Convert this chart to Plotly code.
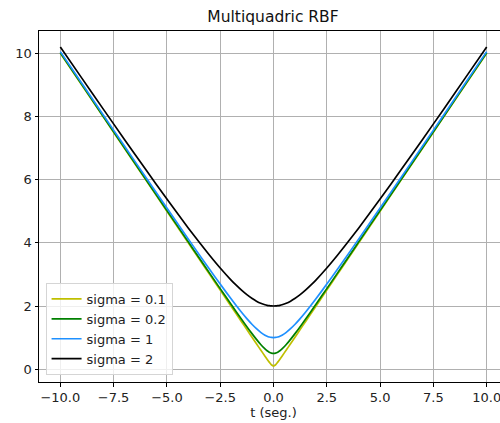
import plotly.graph_objects as go

t = [-10, -9, -8, -7, -6, -5, -4, -3.5, -3, -2.5, -2, -1.75, -1.5, -1.25, -1, -0.8, -0.6, -0.4, -0.3, -0.2, -0.1, 0,
     0.1, 0.2, 0.3, 0.4, 0.6, 0.8, 1, 1.25, 1.5, 1.75, 2, 2.5, 3, 3.5, 4, 5, 6, 7, 8, 9, 10]

s01 = [10.000, 9.001, 8.001, 7.001, 6.001, 5.001, 4.001, 3.501, 3.002, 2.502, 2.002, 1.753, 1.503, 1.254, 1.005, 0.806, 0.608, 0.412, 0.316, 0.224, 0.141, 0.100,
       0.141, 0.224, 0.316, 0.412, 0.608, 0.806, 1.005, 1.254, 1.503, 1.753, 2.002, 2.502, 3.002, 3.501, 4.001, 5.001, 6.001, 7.001, 8.001, 9.001, 10.000]
s02 = [10.012, 9.014, 8.016, 7.018, 6.021, 5.025, 4.031, 3.536, 3.041, 2.550, 2.062, 1.820, 1.581, 1.346, 1.118, 0.943, 0.781, 0.640, 0.583, 0.539, 0.510, 0.500,
       0.510, 0.539, 0.583, 0.640, 0.781, 0.943, 1.118, 1.346, 1.581, 1.820, 2.062, 2.550, 3.041, 3.536, 4.031, 5.025, 6.021, 7.018, 8.016, 9.014, 10.012]
s1 = [10.050, 9.055, 8.062, 7.071, 6.083, 5.099, 4.123, 3.640, 3.162, 2.693, 2.236, 2.016, 1.803, 1.601, 1.414, 1.281, 1.166, 1.077, 1.044, 1.020, 1.005, 1.000,
      1.005, 1.020, 1.044, 1.077, 1.166, 1.281, 1.414, 1.601, 1.803, 2.016, 2.236, 2.693, 3.162, 3.640, 4.123, 5.099, 6.083, 7.071, 8.062, 9.055, 10.050]
s2 = [10.198, 9.220, 8.246, 7.280, 6.325, 5.385, 4.472, 4.031, 3.606, 3.202, 2.828, 2.658, 2.500, 2.358, 2.236, 2.154, 2.088, 2.040, 2.022, 2.010, 2.002, 2.000,
      2.002, 2.010, 2.022, 2.040, 2.088, 2.154, 2.236, 2.358, 2.500, 2.658, 2.828, 3.202, 3.606, 4.031, 4.472, 5.385, 6.325, 7.280, 8.246, 9.220, 10.198]

names = ["sigma = 0.1", "sigma = 0.2", "sigma = 1", "sigma = 2"]
colors = ["#bfbf00", "#008000", "#1e90ff", "#000000"]
series = [s01, s02, s1, s2]

fig = go.Figure()
for n, c, s in zip(names, colors, series):
    fig.add_trace(go.Scatter(x=t, y=s, mode="lines", name=n,
                             line=dict(color=c, width=1.7, shape="spline", smoothing=0.8)))

font = "DejaVu Sans"
W = 508
fig.update_layout(
    width=W, height=423,
    margin=dict(l=38.6, r=0, t=31, b=41, autoexpand=False),
    paper_bgcolor="white", plot_bgcolor="white",
    font=dict(family=font, size=13, color="#222222"),
    title=dict(text="Multiquadric RBF", x=273 / W, xanchor="center", y=1 - 17 / 423, yanchor="middle",
               font=dict(family=font, size=15.5, color="#111111")),
    showlegend=True,
    legend=dict(x=0.014, y=0.02, xanchor="left", yanchor="bottom",
                bgcolor="rgba(255,255,255,0.8)", bordercolor="#d5d5d5", borderwidth=1,
                font=dict(family=font, size=13, color="#222222"), itemwidth=30, tracegroupgap=0),
)
fig.update_xaxes(range=[-11, 11], tickvals=[-10, -7.5, -5, -2.5, 0, 2.5, 5, 7.5, 10],
                 ticktext=["\u221210.0", "\u22127.5", "\u22125.0", "\u22122.5", "0.0", "2.5", "5.0", "7.5", "10.0"],
                 showgrid=True, gridcolor="#b0b0b0", gridwidth=0.8, zeroline=False,
                 showline=True, linecolor="#000000", linewidth=1, mirror=True,
                 ticks="outside", ticklen=3.5, tickcolor="#000000", automargin=False,
                 title=dict(text="t (seg.)", font=dict(family=font, size=13), standoff=2))
fig.update_yaxes(range=[-0.405, 10.703], tickvals=[0, 2, 4, 6, 8, 10],
                 showgrid=True, gridcolor="#b0b0b0", gridwidth=0.8, zeroline=False,
                 showline=True, linecolor="#000000", linewidth=1, mirror=True,
                 ticks="outside", ticklen=3.5, tickcolor="#000000", automargin=False)

fig.write_html("out.html", config={"displayModeBar": False},
               post_script="document.body.style.margin='0';document.body.style.overflow='hidden';")
